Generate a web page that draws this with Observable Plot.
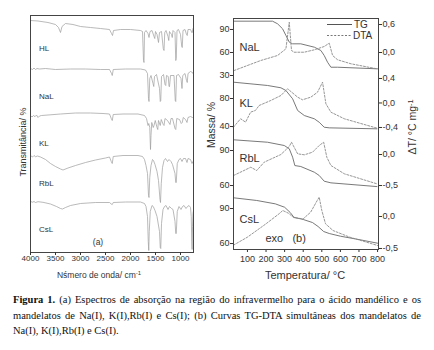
<!DOCTYPE html>
<html><head><meta charset="utf-8">
<script src="https://cdn.jsdelivr.net/npm/d3@7"></script>
<script src="https://cdn.jsdelivr.net/npm/@observablehq/plot@0.6"></script>
<style>
body{margin:0;background:#fff;}
#root{position:relative;width:434px;height:350px;overflow:hidden;font-family:"Liberation Sans",Arial,sans-serif;color:#333;background:#fff;}
.abs{position:absolute;}
.rot{position:absolute;white-space:nowrap;transform:translate(-50%,-50%) rotate(-90deg);}
.ctr{position:absolute;white-space:nowrap;transform:translate(-50%,-50%);}
.cap{position:absolute;left:13px;width:408px;font-family:"Liberation Serif","Times New Roman",serif;font-size:10.5px;color:#111;white-space:nowrap;line-height:1;}
.j{text-align:justify;text-align-last:justify;}
sup{font-size:70%;vertical-align:0.45em;line-height:0;}
</style></head>
<body><div id="root"></div>
<script>
// ---------- IR spectra (wavenumber cm-1, transmittance %) ----------
const irNames = ["HL","NaL","KL","RbL","CsL"];
const hlIR = [[4000,100],[3850,99.5],[3650,98],[3500,96],[3440,93],[3400,88],[3370,94],[3300,97],[3150,96],[3000,94],[2800,93],[2600,92],[2420,91],[2380,87],[2360,85],[2340,90],[2200,91],[2000,91],[1800,90],[1760,89],[1740,60],[1730,58],[1720,88],[1690,90],[1650,87],[1630,83],[1610,89],[1570,90],[1530,84],[1515,82],[1500,89],[1470,86],[1440,78],[1420,88],[1380,89],[1345,72],[1330,70],[1315,88],[1290,90],[1250,84],[1235,80],[1220,89],[1180,86],[1165,83],[1150,90],[1110,88],[1095,60],[1085,62],[1070,90],[1040,91],[1000,86],[975,74],[965,73],[950,90],[910,91],[880,86],[865,85],[850,91],[800,91],[775,88],[765,88],[750,92],[740,91]];
const naIR = [[4000,100],[3960,99],[3930,100.5],[3900,99],[3870,100],[3820,99.5],[3700,100],[3500,99],[3200,99.5],[2900,99.5],[2600,99],[2420,99],[2380,95],[2365,93],[2345,99],[2100,99.5],[1800,99.5],[1700,98.5],[1660,95],[1640,70],[1630,67],[1615,90],[1590,93],[1550,85],[1535,82],[1520,92],[1480,94],[1420,80],[1405,67],[1395,68],[1380,92],[1340,94],[1310,84],[1295,83],[1280,93],[1245,92],[1230,82],[1220,82],[1200,93],[1130,93],[1105,68],[1095,67],[1080,93],[1040,94],[990,90],[970,80],[955,93],[910,95],[880,88],[865,86],[850,95],[800,97],[760,96],[740,94]];
const kIR = [[4000,100],[3970,98.5],[3940,100],[3910,98.8],[3880,100.5],[3850,98],[3820,99.5],[3780,100],[3650,100.5],[3400,101.5],[3100,102.5],[2800,102.5],[2550,102],[2420,101.5],[2385,97],[2365,95],[2345,101],[2150,101.5],[1850,101.5],[1720,100],[1680,97],[1650,90],[1635,92],[1615,88],[1600,66],[1590,80],[1575,93],[1545,88],[1530,90],[1505,95],[1470,88],[1455,86],[1440,95],[1405,90],[1385,96],[1345,91],[1330,90],[1310,97],[1260,95],[1210,91],[1190,97],[1160,97],[1110,87],[1095,86],[1075,97],[1020,96],[985,92],[965,93],[945,98],[900,96],[870,93],[850,98],[800,99],[760,98],[740,97]];
const rbIR = [[4000,100],[3960,98.5],[3930,100],[3900,98.8],[3860,99.5],[3800,98.5],[3700,96],[3600,92],[3500,89],[3400,86.5],[3350,85.5],[3250,87.5],[3100,90],[2900,93],[2700,95.5],[2500,97.5],[2420,98.5],[2385,94],[2365,92],[2345,99],[2150,100],[1850,100],[1760,99],[1720,96],[1690,90],[1660,82],[1640,60],[1630,58],[1615,78],[1590,90],[1560,96],[1540,95],[1510,91],[1470,84],[1440,75],[1410,56],[1400,53],[1385,72],[1360,88],[1330,95],[1300,97],[1260,94],[1230,96],[1190,94],[1160,91],[1110,82],[1095,73],[1085,73],[1065,92],[1030,96],[1000,97],[970,94],[940,97],[900,97],[870,93],[850,97],[800,96],[770,92],[750,94],[740,93]];
const csIR = [[4000,100],[3960,99.3],[3930,100],[3900,99],[3850,99.8],[3750,99.2],[3600,97.5],[3480,95],[3400,93],[3360,92.5],[3300,94],[3200,96],[3000,98],[2700,99],[2420,99],[2385,97.5],[2365,97],[2345,99],[2100,99.5],[1800,99.5],[1720,98],[1690,95],[1660,85],[1645,60],[1635,51],[1625,70],[1605,90],[1570,96],[1545,95],[1510,91],[1470,85],[1420,70],[1405,54],[1395,53],[1380,78],[1350,92],[1320,95],[1290,96],[1250,92],[1220,95],[1180,93],[1150,92],[1110,80],[1095,68],[1085,68],[1065,90],[1030,95],[990,92],[960,95],[930,96],[890,93],[860,95],[830,96],[800,94],[785,85],[775,60],[768,52],[760,75],[750,88],[740,91]];
const irTicks = [4000,3500,3000,2500,2000,1500,1000];

// ---------- TG (°C, mass %) and DTA (°C, °C/mg) ----------
const naTG = [[25,100.8],[235,100.8],[262,97.4],[289,90.9],[307,82.2],[325,73.5],[343,71.3],[387,71.3],[460,66.9],[495,62.6],[513,56.1],[531,47.3],[549,40.8],[585,40.8],[800,38.7]];
const naDTA = [[28,-0.386],[172,-0.171],[262,-0.064],[307,0.079],[325,0.649],[337,0.043],[352,0.006],[405,0.006],[460,0.058],[513,0.129],[540,0.2],[558,-0.064],[585,-0.156],[657,-0.242],[796,-0.349]];
const kTG = [[25,103.3],[208,98.6],[280,95.3],[307,91.4],[343,79.6],[370,62.9],[406,55.7],[460,51],[486,46.1],[513,39],[540,38.1],[797,36.7]];
const kDTA = [[25,-0.395],[63,-0.258],[90,-0.313],[117,-0.15],[143,-0.122],[163,-0.041],[226,0.041],[280,0.122],[316,0.232],[370,0.095],[396,0.052],[441,0.095],[477,0.176],[504,0.34],[522,-0.013],[549,-0.15],[621,-0.258],[797,-0.411]];
const rbTG = [[25,99.2],[208,97.1],[298,94.3],[325,91.5],[343,84.3],[355,77.1],[387,76.3],[460,71.4],[486,68.6],[513,63.7],[549,62.3],[797,59.1]];
const rbDTA = [[25,-0.339],[118,-0.205],[150,-0.258],[190,-0.124],[280,0],[325,0.129],[337,0.198],[370,0.011],[406,-0.005],[450,0.037],[486,0.145],[510,0.198],[527,-0.044],[549,-0.177],[621,-0.311],[797,-0.473]];
const csTG = [[25,99.2],[150,96.9],[250,94],[300,91.1],[330,86.6],[350,82.5],[400,80.6],[450,78],[480,74.6],[510,70.3],[540,68.6],[600,66.3],[700,63.4],[800,60.3]];
const csDTA = [[25,-0.448],[100,-0.323],[200,-0.114],[270,0.042],[290,0.094],[320,0.052],[350,-0.02],[400,-0.036],[440,0.067],[470,0.223],[486,0.302],[500,0.094],[520,-0.114],[560,-0.219],[650,-0.323],[800,-0.453]];
const tgNames = ["NaL","KL","RbL","CsL"];
const naMassTicks = [30,60,90], kMassTicks = [40,80], rbMassTicks = [60,90], csMassTicks = [60,90];
const naDtaTicks = [0,0.6], kDtaTicks = [-0.4,0,0.4], rbDtaTicks = [-0.5,0], csDtaTicks = [-0.5,0];
const tempTicks = [100,200,300,400,500,600,700,800];

const root = document.getElementById("root");
const FONT = '"Liberation Sans",Arial,sans-serif';

// ---------- Left panel: IR ----------
const irAll = [hlIR, naIR, kIR, rbIR, csIR];
const irShift = [0, 48, 95, 135, 181];
const irRows = irAll.flatMap((s, i) => s.map(([w, t]) => ({name: irNames[i], w, y: t - irShift[i]})));
const irLab = irNames.map((n, i) => ({n, y: 100 - irShift[i] - 28}));
const irPlot = Plot.plot({
  width: 217, height: 285, marginLeft: 30, marginRight: 24, marginTop: 15, marginBottom: 33,
  style: {fontFamily: FONT, color: "#333", background: "transparent", overflow: "visible"},
  x: {domain: [4000, 740]},
  y: {domain: [-132, 105], axis: null},
  marks: [
    Plot.line(irRows, {x: "w", y: "y", z: "name", stroke: "#9c9c9c", strokeWidth: 0.7}),
    Plot.text(irLab, {x: () => 3830, y: "y", text: "n", textAnchor: "start", fontSize: 8, fill: "#333"}),
    Plot.text(["(a)"], {frameAnchor: "bottom", dx: -14, dy: -8, fontSize: 8.5, fill: "#333"}),
    Plot.frame({stroke: "#444"}),
    Plot.axisX(irTicks, {tickSize: 3, tickPadding: 0, fontSize: 8, label: null, tickFormat: d => String(d)})
  ]
});
irPlot.style.position = "absolute"; irPlot.style.left = "0px"; irPlot.style.top = "0px";
root.appendChild(irPlot);

// ---------- Right panel: TG-DTA ----------
const fmt = v => { let r = Math.round(v * 10) / 10; if (Math.abs(r) < 1e-9) r = 0; return r.toFixed(1).replace(".", ",").replace("−", "-"); };
const panels = [
  {name: tgNames[0], tg: naTG, dta: naDTA, mt: naMassTicks, dt: naDtaTicks, mass: [23.5, 104.3], dd: [-0.6, 0.729], top: 18, h: 62, ldy: 25},
  {name: tgNames[1], tg: kTG, dta: kDTA, mt: kMassTicks, dt: kDtaTicks, mass: [22.9, 105.7], dd: [-0.58, 0.367], top: 80, h: 58, ldy: 19},
  {name: tgNames[2], tg: rbTG, dta: rbDTA, mt: rbMassTicks, dt: rbDtaTicks, mass: [50.6, 100.3], dd: [-0.677, 0.258], top: 138, h: 58, ldy: 16},
  {name: tgNames[3], tg: csTG, dta: csDTA, mt: csMassTicks, dt: csDtaTicks, mass: [54.9, 100.3], dd: [-0.516, 0.3125], top: 196, h: 53, ldy: 19}
];
panels.forEach((p, i) => {
  const last = i === panels.length - 1;
  const [mLo, mHi] = p.mass, [dLo, dHi] = p.dd;
  const conv = d => mLo + (d - dLo) / (dHi - dLo) * (mHi - mLo);
  const inv = m => dLo + (m - mLo) / (mHi - mLo) * (dHi - dLo);
  const marks = [
    Plot.line(p.tg.map(([t, m]) => ({t, m})), {x: "t", y: "m", stroke: "#6a6a6a", strokeWidth: 0.9}),
    Plot.line(p.dta.map(([t, d]) => ({t, v: conv(d)})), {x: "t", y: "v", stroke: "#8a8a8a", strokeWidth: 0.9, strokeDasharray: "2,1.6"}),
    Plot.axisY(p.mt, {anchor: "left", tickSize: 3, tickPadding: 1, fontSize: 9, label: null}),
    Plot.axisY(p.dt.map(conv), {anchor: "right", tickSize: 3, tickPadding: 1, fontSize: 9, label: null, tickFormat: m => fmt(inv(m))}),
    Plot.text([p.name], {frameAnchor: "top-left", dx: 6, dy: p.ldy, fontSize: 11, fill: "#333", textAnchor: "start"})
  ];
  if (last) {
    marks.push(Plot.axisX(tempTicks, {tickSize: 3, tickPadding: 3, fontSize: 9, label: null, tickFormat: d => String(d)}));
    marks.push(Plot.text(["exo\u00a0\u00a0 (b)"], {frameAnchor: "bottom-left", dx: 32, dy: -8, fontSize: 11, fill: "#333", textAnchor: "start"}));
  }
  const fig = Plot.plot({
    width: 217, height: p.h + (last ? 24 : 0),
    marginLeft: 16, marginRight: 56, marginTop: 0, marginBottom: last ? 24 : 0,
    style: {fontFamily: FONT, color: "#333", background: "transparent", overflow: "visible"},
    x: last ? {domain: [25, 805]} : {domain: [25, 805], axis: null},
    y: {domain: [mLo, mHi]},
    marks
  });
  fig.style.position = "absolute"; fig.style.left = "217px"; fig.style.top = p.top + "px";
  root.appendChild(fig);
});

// frame, legend and titles
root.insertAdjacentHTML("beforeend", `
<div class="abs" style="left:233px;top:18px;width:146px;height:232px;box-sizing:border-box;border:1px solid #444;"></div>
<svg class="abs" style="left:0;top:0;pointer-events:none" width="434" height="350">
  <line x1="327" y1="24.5" x2="352" y2="24.5" stroke="#555" stroke-width="1"/>
  <text x="354" y="28" font-size="10" fill="#333" font-family='Liberation Sans,Arial,sans-serif'>TG</text>
  <line x1="327" y1="35.5" x2="351" y2="35.5" stroke="#777" stroke-width="1" stroke-dasharray="2,1.6"/>
  <text x="353" y="39" font-size="10" fill="#333" font-family='Liberation Sans,Arial,sans-serif'>DTA</text>
</svg>
<div class="rot" style="left:23px;top:142px;font-size:9px;">Transmitância/ %</div>
<div class="ctr" style="left:99px;top:275px;font-size:8.5px;">Nśmero de onda/ cm<sup>-1</sup></div>
<div class="rot" style="left:211px;top:125px;font-size:10.5px;">Massa/ %</div>
<div class="rot" style="left:412px;top:127px;font-size:10.5px;">ΔT/ °C mg<sup>-1</sup></div>
<div class="ctr" style="left:305px;top:275px;font-size:11px;">Temperatura/ °C</div>
<div class="cap j" style="top:295px;"><b>Figura 1.</b> (a) Espectros de absorção na região do infravermelho para o ácido mandélico e os</div>
<div class="cap j" style="top:310.5px;">mandelatos de Na(I), K(I),Rb(I) e Cs(I); (b) Curvas TG-DTA simultâneas dos mandelatos de</div>
<div class="cap" style="top:326px;">Na(I), K(I),Rb(I) e Cs(I).</div>
`);
</script>
</body></html>
